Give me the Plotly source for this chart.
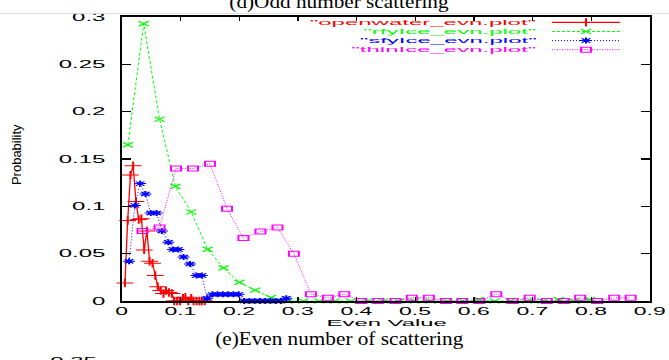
import json
import plotly.graph_objects as go

# ---------------- data ----------------
x_ticks = [0, 0.1, 0.2, 0.3, 0.4, 0.5, 0.6, 0.7, 0.8, 0.9]
x_ticklabels = ["0", "0.1", "0.2", "0.3", "0.4", "0.5", "0.6", "0.7", "0.8", "0.9"]
y_ticks = [0, 0.05, 0.1, 0.15, 0.2, 0.25, 0.3]
y_ticklabels = ["0", "0.05", "0.1", "0.15", "0.2", "0.25", "0.3"]

series_names = ['"openwater_evn.plot"', '"rfyIce_evn.plot"', '"sfyIce_evn.plot"', '"thinIce_evn.plot"']

openwater_x = [0.005, 0.0097, 0.0144, 0.019, 0.0238, 0.0285, 0.033, 0.0378, 0.0425, 0.047,
               0.052, 0.0567, 0.061, 0.066, 0.0707, 0.075, 0.080, 0.085, 0.089, 0.094,
               0.099, 0.104, 0.108, 0.113, 0.118, 0.122, 0.127, 0.132, 0.136, 0.141]
openwater_y = [0.019, 0.085, 0.133, 0.143, 0.105, 0.086, 0.087, 0.054, 0.074, 0.042,
               0.040, 0.027, 0.015, 0.011, 0.008, 0.011, 0.009, 0.008, 0.0, 0.0,
               0.0, 0.003, 0.004, 0.0, 0.003, 0.0, 0.0, 0.0, 0.0, 0.0]

rfyice_x = [0.010, 0.037, 0.064, 0.091, 0.118, 0.146, 0.173, 0.200, 0.227, 0.254,
            0.282, 0.309, 0.336, 0.363, 0.390, 0.418, 0.445, 0.472, 0.499, 0.526,
            0.554, 0.581, 0.608, 0.635, 0.662, 0.690, 0.717, 0.744, 0.771, 0.798]
rfyice_y = [0.165, 0.293, 0.192, 0.121, 0.094, 0.0545, 0.035, 0.0196, 0.0114, 0.0036,
            0.0, 0.0, 0.0, 0.0, 0.0, 0.0, 0.0, 0.0, 0.0, 0.0,
            0.0, 0.0, 0.0015, 0.0, 0.0, 0.0, 0.0, 0.0015, 0.0, 0.0015]

sfyice_x = [0.012, 0.022, 0.031, 0.040, 0.049, 0.059, 0.068, 0.079, 0.087, 0.096,
            0.105, 0.116, 0.127, 0.136, 0.145, 0.154, 0.163, 0.172, 0.181, 0.190,
            0.199, 0.208, 0.217, 0.226, 0.235, 0.244, 0.253, 0.262, 0.271, 0.280]
sfyice_y = [0.042, 0.101, 0.124, 0.113, 0.093, 0.093, 0.074, 0.062, 0.0545, 0.0545,
            0.0465, 0.039, 0.027, 0.027, 0.003, 0.007, 0.007, 0.007, 0.007, 0.007,
            0.007, 0.0, 0.0, 0.0, 0.0, 0.0, 0.0, 0.0, 0.0, 0.003]

thinice_x = [0.035, 0.064, 0.092, 0.121, 0.150, 0.179, 0.207, 0.236, 0.265, 0.293,
             0.322, 0.351, 0.379, 0.408, 0.437, 0.466, 0.494, 0.523, 0.552, 0.580,
             0.609, 0.638, 0.666, 0.695, 0.724, 0.753, 0.781, 0.810, 0.839, 0.867]
thinice_y = [0.074, 0.0776, 0.140, 0.140, 0.145, 0.0975, 0.0665, 0.0734, 0.0776, 0.050,
             0.0072, 0.0034, 0.0072, 0.0, 0.0, 0.0, 0.0034, 0.0034, 0.0, 0.0,
             0.0, 0.0072, 0.0, 0.0034, 0.0, 0.0, 0.0034, 0.0, 0.0034, 0.0034]

x_title = "Even Value"
y_title = "Probability"
caption = "(e)Even number of scattering"
prev_caption = "(d)Odd number scattering"
next_tick = "0.35"

# ---------------- styles ----------------
W, H = 669, 360
L, R, T, B = 122, 650, 11, 301          # plot area in pixels
SANS = "Liberation Sans, Arial, sans-serif"
SERIF = "Liberation Serif, Times New Roman, serif"


def px(xp):
    return (xp - L) / (R - L)


def py(yp):
    return (B - yp) / (B - T)


styles = [
    dict(color="#ff0000", dash="solid", width=1.3, symbol="cross-thin", msize=6),
    dict(color="#00ff00", dash="3px,2px", width=1.0, symbol="x-thin", msize=5),
    dict(color="#0000ff", dash="1px,2px", width=1.0, symbol="asterisk", msize=5),
    dict(color="#ff00ff", dash="1px,1.5px", width=1.0, symbol="square-open", msize=5),
]
data = [(openwater_x, openwater_y), (rfyice_x, rfyice_y), (sfyice_x, sfyice_y), (thinice_x, thinice_y)]

fig = go.Figure()
for (xs, ys), st, nm in zip(data, styles, series_names):
    fig.add_trace(go.Scatter(
        x=xs, y=ys, mode="lines+markers", name=nm, cliponaxis=False,
        line=dict(color=st["color"], dash=st["dash"], width=st["width"]),
        marker=dict(symbol=st["symbol"], size=st["msize"], color=st["color"],
                    line=dict(color=st["color"], width=1)),
    ))

# legend (gnuplot style: text right-aligned, sample to the right) on a pixel overlay axis
leg_rows = [16.5, 25.8, 35.1, 44.4]
leg_text_right = 538
leg_line = [552, 620]
leg_mark = 586
for st, nm, ry in zip(styles, series_names, leg_rows):
    fig.add_trace(go.Scatter(
        x=leg_line, y=[ry, ry], xaxis="x2", yaxis="y2", mode="lines", cliponaxis=False,
        line=dict(color=st["color"], dash=st["dash"], width=st["width"]), hoverinfo="skip"))
    fig.add_trace(go.Scatter(
        x=[leg_mark], y=[ry], xaxis="x2", yaxis="y2", mode="markers", cliponaxis=False,
        marker=dict(symbol=st["symbol"], size=st["msize"], color=st["color"],
                    line=dict(color=st["color"], width=1)), hoverinfo="skip"))

annotations = []
stretch = []   # (scale, anchor-mode) for each annotation, applied in post script
for st, nm, ry in zip(styles, series_names, leg_rows):
    annotations.append(dict(text=nm, x=px(leg_text_right), y=py(ry), xref="paper", yref="paper",
                            xanchor="right", yanchor="middle", showarrow=False, borderpad=0,
                            font=dict(family=SANS, size=8, color=st["color"])))
    stretch.append([3.0, "end"])

annotations.append(dict(text=x_title, x=px((L + R) / 2), y=py(323.5), xref="paper", yref="paper",
                        xanchor="center", yanchor="middle", showarrow=False, borderpad=0,
                        font=dict(family=SANS, size=9, color="black")))
stretch.append([2.65, "middle"])
annotations.append(dict(text=y_title, x=px(16), y=py(152), xref="paper", yref="paper", textangle=-90,
                        xanchor="center", yanchor="middle", showarrow=False,
                        font=dict(family="Liberation Sans Narrow, Liberation Sans, sans-serif",
                                  size=13, color="black")))
stretch.append([1, "middle"])
annotations.append(dict(text=caption, x=px(339), y=py(340), xref="paper", yref="paper",
                        xanchor="center", yanchor="middle", showarrow=False, borderpad=0,
                        font=dict(family=SERIF, size=18, color="black")))
stretch.append([1.18, "middle"])
annotations.append(dict(text=prev_caption, x=px(339), y=py(9), xref="paper", yref="paper",
                        xanchor="center", yanchor="bottom", showarrow=False,
                        font=dict(family=SERIF, size=18, color="black")))
stretch.append([1.18, "middle"])
annotations.append(dict(text=next_tick, x=px(100), y=py(355), xref="paper", yref="paper",
                        xanchor="right", yanchor="top", showarrow=False,
                        font=dict(family=SANS, size=10, color="black")))
stretch.append([2.4, "end"])

axis_common = dict(showline=True, linecolor="black", linewidth=2, mirror="allticks",
                   showgrid=False, zeroline=False, ticks="inside", tickcolor="black",
                   tickfont=dict(family=SANS, size=10, color="black"))

fig.update_layout(
    width=W, height=H, autosize=False, showlegend=False,
    margin=dict(l=L, r=W - R, t=T, b=H - B, pad=0),
    plot_bgcolor="white", paper_bgcolor="white",
    xaxis=dict(range=[0, 0.9], tickvals=x_ticks, ticktext=x_ticklabels,
               ticklen=4, tickwidth=1.5, **axis_common),
    yaxis=dict(range=[0, 0.3], tickvals=y_ticks, ticktext=y_ticklabels,
               ticklen=9, tickwidth=1.5, ticklabelstandoff=12, **axis_common),
    xaxis2=dict(range=[L, R], overlaying="x", anchor="y2", visible=False, fixedrange=True),
    yaxis2=dict(range=[B, T], overlaying="y", anchor="x2", visible=False, fixedrange=True),
    annotations=annotations,
    shapes=[dict(type="line", xref="paper", yref="paper",
                 x0=px(0), x1=px(W), y0=py(7.5), y1=py(7.5),
                 line=dict(color="#dddddd", width=1))],
)

post = """
var gd = document.getElementById('{plot_id}');
var cfg = %s;
function stretchEl(el, s, mode){
  if(!el || s === 1) return;
  var bb = el.getBBox();
  var ax = mode === 'end' ? bb.x + bb.width : (mode === 'start' ? bb.x : bb.x + bb.width / 2);
  var t = el.getAttribute('transform') || '';
  el.setAttribute('transform', t + ' translate(' + ax + ',0) scale(' + s + ',1) translate(' + (-ax) + ',0)');
}
gd.querySelectorAll('g.xtick text').forEach(function(e){ stretchEl(e, 2.3, 'middle'); });
gd.querySelectorAll('g.ytick text').forEach(function(e){ stretchEl(e, 2.4, 'end'); });
gd.querySelectorAll('g.annotation').forEach(function(g){
  var i = parseInt(g.getAttribute('data-index'));
  var c = cfg[i];
  if(c){ stretchEl(g.querySelector('text'), c[0], c[1]); }
});
gd.querySelectorAll('.scatterlayer path.point').forEach(function(p){
  var t = p.getAttribute('transform') || '';
  p.setAttribute('transform', t + ' scale(2,1)');
});
""" % json.dumps(stretch)

fig.write_html("out.html", post_script=post, config={"displayModeBar": False, "staticPlot": True})
